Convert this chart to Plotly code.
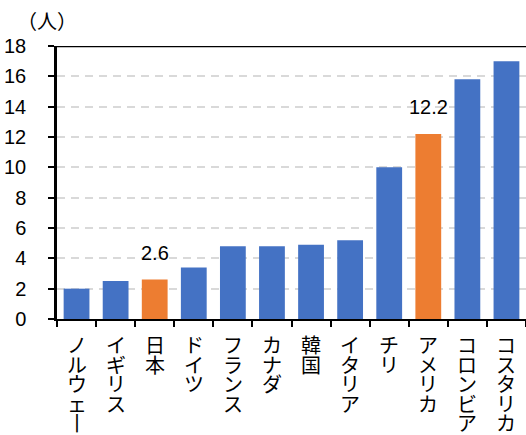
import plotly.graph_objects as go

# Countries and values (persons)
countries = ["ノルウェー", "イギリス", "日本", "ドイツ", "フランス", "カナダ",
             "韓国", "イタリア", "チリ", "アメリカ", "コロンビア", "コスタリカ"]
values = [2.0, 2.5, 2.6, 3.4, 4.8, 4.8, 4.9, 5.2, 10.0, 12.2, 15.8, 17.0]
highlight = ["日本", "アメリカ"]
y_ticks = [0, 2, 4, 6, 8, 10, 12, 14, 16, 18]

BLUE = "#4472C4"
ORANGE = "#ED7D31"
NUM_FONT = "Liberation Sans, Arial, sans-serif"
JP_FONT = "Noto Sans CJK JP, sans-serif"

colors = [ORANGE if c in highlight else BLUE for c in countries]

fig = go.Figure(go.Bar(
    x=countries, y=values, marker=dict(color=colors, line=dict(width=0)),
    hoverinfo="skip",
))

annotations = []
# value labels for highlighted bars
for c, v in zip(countries, values):
    if c in highlight:
        annotations.append(dict(
            x=c, y=v, xref="x", yref="y", text=f"{v:.1f}", showarrow=False,
            yanchor="bottom", yshift=14,
            font=dict(family=NUM_FONT, size=20, color="black"),
        ))

# vertical (tategaki) category labels: one glyph per line, with a tight
# line pitch (line spacing follows the small base font, glyphs are larger)
vertical_map = {"ー": "丨"}


def tategaki(word):
    return "<br>".join(
        f"<span style='font-size:20px'>{vertical_map.get(ch, ch)}</span>"
        for ch in word
    )


for c in countries:
    annotations.append(dict(
        x=c, y=0, xref="x", yref="paper", text=tategaki(c),
        showarrow=False, yanchor="top", yshift=-9,
        font=dict(family=JP_FONT, size=15, color="black"),
    ))

# unit label
annotations.append(dict(
    x=0, y=1, xref="paper", yref="paper", text="（人）", showarrow=False,
    xanchor="center", yanchor="middle", xshift=-10, yshift=26,
    font=dict(family=JP_FONT, size=20, color="black"),
))

fig.update_layout(
    width=526, height=435,
    margin=dict(l=57, r=0, t=46, b=116, pad=0),
    paper_bgcolor="white", plot_bgcolor="white",
    bargap=0.34, showlegend=False,
    annotations=annotations,
    shapes=[dict(type="line", xref="paper", yref="y", x0=0, x1=1, y0=18, y1=18,
                 line=dict(color="black", width=2.5))],
    xaxis=dict(
        showticklabels=False, showgrid=False,
        showline=True, linecolor="black", linewidth=2,
        ticks="outside", tickson="boundaries", ticklen=6, tickwidth=2,
        tickcolor="black",
    ),
    yaxis=dict(
        range=[0, 18], tickvals=y_ticks, ticktext=[str(t) for t in y_ticks],
        showline=True, linecolor="black", linewidth=2.5,
        ticks="outside", ticklen=6, tickwidth=2, tickcolor="black",
        ticklabelstandoff=18,
        tickfont=dict(family=NUM_FONT, size=20, color="black"),
        showgrid=True, gridcolor="#D9D9D9", gridwidth=2, griddash="8px,6px",
        zeroline=False,
    ),
)

fig.write_html("out.html")
